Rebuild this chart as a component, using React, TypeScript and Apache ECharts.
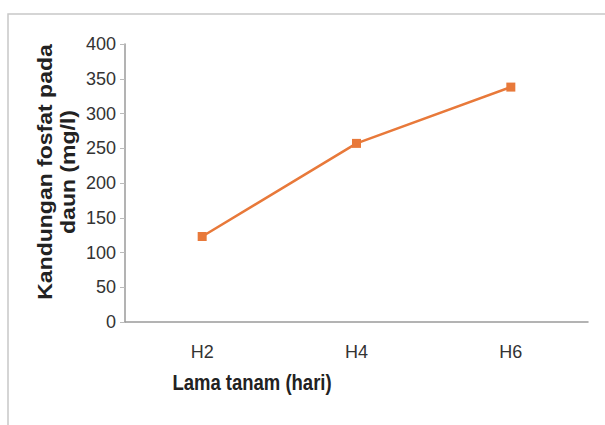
import React, { useEffect, useRef } from "react";
import * as echarts from "echarts";

const categories = ["H2", "H4", "H6"];
const values = [123, 257, 338];
const yTicks = [0, 50, 100, 150, 200, 250, 300, 350, 400];
const yTitle = "Kandungan fosfat pada\ndaun (mg/l)";
const xTitle = "Lama tanam (hari)";

const font = "'Liberation Sans', Arial, sans-serif";

export default function App() {
  const ref = useRef<HTMLDivElement>(null);
  useEffect(() => {
    if (!ref.current) return;
    const chart = echarts.init(ref.current, null, { renderer: "svg" });
    chart.setOption({
      animation: false,
      backgroundColor: "#ffffff",
      grid: { left: 125, right: 17, top: 44, bottom: 103 },
      xAxis: {
        type: "category",
        data: categories,
        boundaryGap: true,
        axisLine: { lineStyle: { color: "#9a9a9a", width: 1.5 } },
        axisTick: { alignWithLabel: true, length: 4, lineStyle: { color: "#bbbbbb" } },
        axisLabel: { color: "#333", fontSize: 18, fontFamily: font, margin: 21 },
      },
      yAxis: {
        type: "value",
        min: yTicks[0],
        max: yTicks[yTicks.length - 1],
        interval: 50,
        splitLine: { show: false },
        axisLine: { show: true, lineStyle: { color: "#9a9a9a", width: 1.5 } },
        axisTick: { show: true, length: 5, lineStyle: { color: "#bbbbbb" } },
        axisLabel: { color: "#333", fontSize: 18, fontFamily: font, margin: 9 },
      },
      graphic: [
        {
          type: "rect",
          shape: { x: 8, y: 14, width: 600, height: 420 },
          style: { fill: "none", stroke: "#c8c8c8", lineWidth: 1.5 },
          silent: true,
        },
        {
          type: "text",
          x: 57,
          y: 172,
          rotation: Math.PI / 2,
          scaleX: 1.15,
          style: {
            text: yTitle,
            fill: "#222",
            fontSize: 20,
            fontWeight: "bold",
            fontFamily: font,
            lineHeight: 23,
            align: "center",
            verticalAlign: "middle",
          },
        },
        {
          type: "text",
          x: 252,
          y: 383,
          scaleY: 1.15,
          style: {
            text: xTitle,
            fill: "#222",
            fontSize: 18.5,
            fontWeight: "bold",
            fontFamily: font,
            align: "center",
            verticalAlign: "middle",
          },
        },
      ],
      series: [
        {
          type: "line",
          data: values,
          symbol: "rect",
          symbolSize: 9,
          lineStyle: { color: "#e8793a", width: 2.5 },
          itemStyle: { color: "#e8793a" },
        },
      ],
    });
    return () => chart.dispose();
  }, []);
  return (
    <div
      ref={ref}
      style={{ position: "fixed", left: 0, top: 0, width: 605, height: 425 }}
    />
  );
}
